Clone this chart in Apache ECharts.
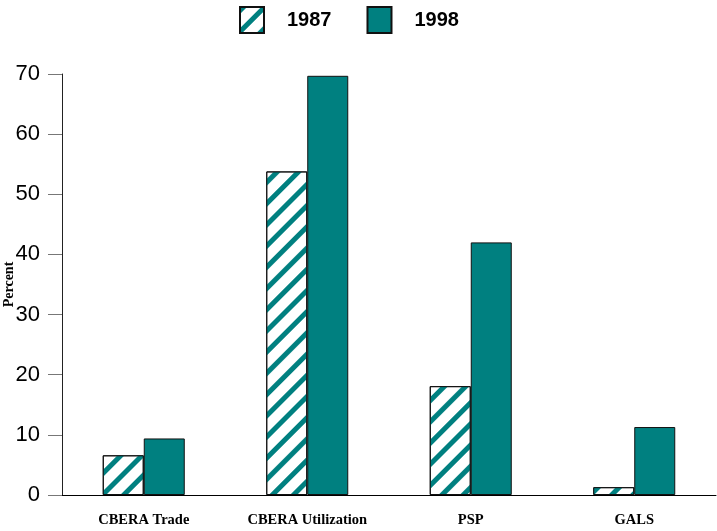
<!DOCTYPE html>
<html>
<head>
<meta charset="utf-8">
<script src="https://cdn.jsdelivr.net/npm/echarts@6/dist/echarts.min.js"></script>
<style>html,body{margin:0;padding:0;background:#fff}#c{width:717px;height:531px}</style>
</head>
<body>
<div id="c"></div>
<script>
var categories = ['CBERA Trade', 'CBERA Utilization', 'PSP', 'GALS'];
var seriesNames = ['1987', '1998'];
var values1987 = [6.6, 53.8, 18.1, 1.3];
var values1998 = [9.4, 69.7, 42.0, 11.3];

var teal = '#008080';
var chart = echarts.init(document.getElementById('c'));
chart.setOption({
  animation: false,
  backgroundColor: '#fff',
  legend: {
    left: 234, top: 1,
    icon: 'rect',
    itemWidth: 24, itemHeight: 26, itemGap: 35,
    data: seriesNames,
    textStyle: { fontFamily: 'Liberation Sans, Arial', fontWeight: 'bold', fontSize: 20, color: '#000', padding: [0, 0, 0, 18] }
  },
  grid: { left: 62, right: 1, top: 74, bottom: 36, containLabel: false, outerBoundsMode: 'none' },
  xAxis: {
    type: 'category',
    data: categories,
    axisLine: { lineStyle: { color: '#000', width: 1 } },
    axisTick: { alignWithLabel: true, length: 10, lineStyle: { color: '#555' } },
    axisLabel: { margin: 18, fontFamily: 'Liberation Serif, Times New Roman', fontWeight: 'bold', fontSize: 14.5, color: '#000' }
  },
  yAxis: {
    type: 'value', min: 0, max: 70, interval: 10,
    name: 'Percent', nameLocation: 'middle', nameGap: 46, nameMoveOverlap: false,
    nameTextStyle: { fontFamily: 'Liberation Serif, Times New Roman', fontWeight: 'bold', fontSize: 14, color: '#000' },
    axisLine: { show: true, lineStyle: { color: '#222', width: 1 } },
    axisTick: { show: true, length: 14, lineStyle: { color: '#777' } },
    splitLine: { show: false },
    axisLabel: { margin: 22, fontFamily: 'Liberation Sans, Arial', fontSize: 22, color: '#000' }
  },
  series: [
    {
      name: seriesNames[0], type: 'bar', data: values1987,
      barWidth: 41, barGap: '0%',
      itemStyle: {
        color: '#fff', borderColor: '#111', borderWidth: 1,
        decal: { symbol: 'rect', symbolSize: 1, color: teal, dashArrayX: [1, 0], dashArrayY: [5, 10], rotation: -Math.PI / 4 }
      }
    },
    {
      name: seriesNames[1], type: 'bar', data: values1998,
      barWidth: 41, barGap: '0%',
      itemStyle: { color: teal, borderColor: '#111', borderWidth: 1 }
    }
  ]
});
</script>
</body>
</html>
